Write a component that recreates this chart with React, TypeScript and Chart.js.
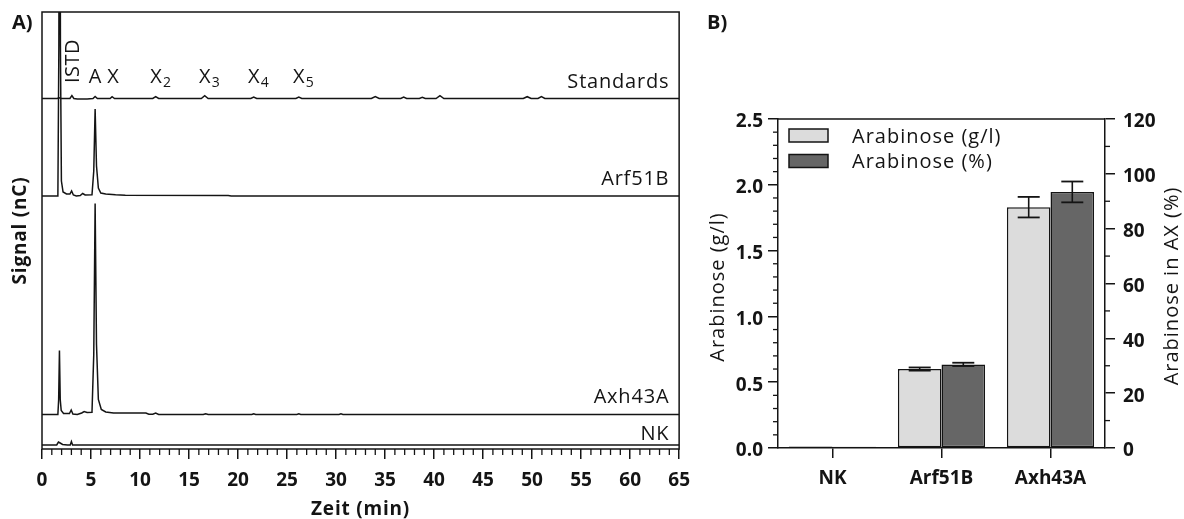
import React, { useEffect, useRef } from 'react';
import { Chart, registerables } from 'chart.js';

Chart.register(...registerables);

const FONT = '"Open Sans", "Liberation Sans", sans-serif';
const INK = '#141414';

// ---------------- Panel A: chromatograms ----------------
const timeMin = 0;
const timeMax = 65;
const timeMajorStep = 5;
const timeMinorStep = 1;
const signalMin = 0;
const signalMax = 437;

const traceNames = ['Standards', 'Arf51B', 'Axh43A', 'NK'];
const traceOffsets = [350.5, 253, 34.5, 4];

// [time (min), signal above baseline]
const standardsTrace: number[][] = [
  [0, 0], [1.55, 0], [1.75, 0.8], [1.95, 0], [2.85, 0], [3.05, 3], [3.25, 0], [3.6, -0.6], [4.6, -0.6],
  [5.2, 0], [5.42, 2], [5.65, 0], [6.95, 0], [7.15, 1.8], [7.4, 0], [11.3, 0], [11.6, 1.8], [11.9, 0],
  [16.25, 0], [16.6, 2.8], [16.95, 0], [21.3, 0], [21.6, 1.5], [21.9, 0], [25.9, 0], [26.2, 1.5], [26.5, 0],
  [33.6, 0], [34.0, 2], [34.4, 0], [36.6, 0], [36.9, 1.5], [37.2, 0], [38.5, 0], [38.8, 1.2], [39.1, 0],
  [40.2, 0], [40.6, 2.8], [41.0, 0], [49.1, 0], [49.5, 1.8], [49.9, 0], [50.6, 0], [50.95, 1.8], [51.3, 0], [65, 0],
];
const arf51bTrace: number[][] = [
  [0, 0], [1.62, 0], [1.72, 150], [1.8, 600], [1.88, 150], [1.98, 15], [2.15, 4], [2.5, 2], [2.85, 2],
  [3.02, 5], [3.2, 1], [3.5, 0], [3.9, 0.5], [4.15, 2.5], [4.4, 1], [5.1, 1.2], [5.28, 25], [5.42, 87],
  [5.56, 30], [5.75, 8], [6.0, 3], [6.5, 2], [7.5, 1.2], [8.5, 0.8], [19.0, 0.6], [19.3, 0], [65, 0],
];
const axh43aTrace: number[][] = [
  [0, 0], [1.62, 0], [1.7, 15], [1.78, 64], [1.86, 15], [1.96, 4], [2.2, 1], [2.8, 1], [2.98, 4.5],
  [3.15, 0.5], [3.6, 0], [4.05, 1.5], [4.3, 3], [4.6, 2], [5.1, 2.2], [5.28, 60], [5.42, 211], [5.56, 70],
  [5.75, 15], [6.05, 5], [6.5, 2.5], [7.3, 1.5], [10.6, 1.5], [10.9, 0.3], [11.3, 0.2], [11.6, 1.4], [11.9, 0],
  [16.45, 0], [16.7, 0.8], [16.95, 0], [21.4, 0], [21.6, 0.8], [21.8, 0], [26.0, 0], [26.2, 0.6], [26.4, 0],
  [30.3, 0], [30.5, 0.6], [30.7, 0], [65, 0],
];
const nkTrace: number[][] = [
  [0, 0], [1.5, 0], [1.68, 3], [1.85, 2], [2.1, 0.6], [2.6, 0], [2.88, 0], [3.0, 3.5], [3.12, 0], [65, 0],
];
const traces = [standardsTrace, arf51bTrace, axh43aTrace, nkTrace];

const peakNames = ['ISTD', 'A', 'X', 'X', 'X', 'X', 'X'];
const peakSubscripts = ['', '', '', '2', '3', '4', '5'];
const peakTimes = [3.1, 5.42, 7.25, 11.64, 16.6, 21.6, 26.2];

// ---------------- Panel B: bars ----------------
const categories = ['NK', 'Arf51B', 'Axh43A'];
const seriesLabels = ['Arabinose (g/l)', 'Arabinose (%)'];
const arabinoseGL = [0.012, 0.6, 1.83];
const arabinoseGLErr = [0, 0.012, 0.078];
const arabinosePct = [0.5, 30.5, 93.4];
const arabinosePctErr = [0, 0.6, 3.8];
const glAxis = { min: 0, max: 2.5, step: 0.5, minor: 0.1 };
const pctAxis = { min: 0, max: 120, step: 20, minor: 10 };
const barColors = ['#dcdcdc', '#666666'];

function drawText(
  ctx: CanvasRenderingContext2D, s: string, x: number, y: number,
  o: { size: number; bold?: boolean; align?: CanvasTextAlign; baseline?: CanvasTextBaseline; spacing?: number; rotate?: number }
) {
  ctx.save();
  ctx.font = `${o.bold ? 'bold ' : ''}${o.size}px ${FONT}`;
  ctx.fillStyle = INK;
  (ctx as any).letterSpacing = `${o.spacing || 0}px`;
  ctx.textAlign = o.align || 'left';
  ctx.textBaseline = o.baseline || 'alphabetic';
  ctx.translate(x, y);
  if (o.rotate) ctx.rotate(o.rotate);
  ctx.fillText(s, 0, 0);
  ctx.restore();
}

function line(ctx: CanvasRenderingContext2D, x1: number, y1: number, x2: number, y2: number, w = 1.5) {
  ctx.save();
  ctx.strokeStyle = INK;
  ctx.lineWidth = w;
  ctx.beginPath();
  ctx.moveTo(x1, y1);
  ctx.lineTo(x2, y2);
  ctx.stroke();
  ctx.restore();
}

const chromPlugin = {
  id: 'chromDecor',
  afterDraw(chart: any) {
    const { ctx, chartArea: a, scales } = chart;
    const xs = scales.x;
    const ys = scales.y;
    ctx.save();
    ctx.strokeStyle = INK;
    ctx.lineWidth = 1.5;
    ctx.strokeRect(a.left, a.top, a.right - a.left, a.bottom - a.top);
    ctx.restore();
    for (let t = timeMin; t <= timeMax; t += timeMinorStep) {
      if (t % timeMajorStep === 0) continue;
      const px = xs.getPixelForValue(t);
      line(ctx, px, a.bottom, px, a.bottom + 6, 1.3);
    }
    const lifts = [10.5, 11, 11.5, 5];
    traceNames.forEach((n, i) => {
      drawText(ctx, n, xs.getPixelForValue(64), ys.getPixelForValue(traceOffsets[i]) - lifts[i],
        { size: 20, align: 'right', spacing: 0.8 });
    });
    const labelBase = ys.getPixelForValue(traceOffsets[0]) - 15.5;
    peakNames.forEach((n, i) => {
      const px = xs.getPixelForValue(peakTimes[i]);
      if (n === 'ISTD') {
        drawText(ctx, n, px + 7, labelBase, { size: 20, rotate: -Math.PI / 2, spacing: 0.5 });
      } else {
        drawText(ctx, n, px, labelBase, { size: 20, align: 'center' });
        if (peakSubscripts[i]) drawText(ctx, peakSubscripts[i], px + 7, labelBase + 4, { size: 14 });
      }
    });
    drawText(ctx, 'Zeit (min)', (a.left + a.right) / 2, 515, { size: 19, bold: true, align: 'center', spacing: 0.8 });
    drawText(ctx, 'Signal (nC)', 26, (a.top + a.bottom) / 2, { size: 19, bold: true, align: 'center', spacing: 0.8, rotate: -Math.PI / 2 });
    drawText(ctx, 'A)', 12, 29, { size: 20, bold: true });
  },
};

const barPlugin = {
  id: 'barDecor',
  afterDatasetsDraw(chart: any) {
    const { ctx } = chart;
    const errs = [arabinoseGLErr, arabinosePctErr];
    const vals = [arabinoseGL, arabinosePct];
    chart.data.datasets.forEach((ds: any, di: number) => {
      const meta = chart.getDatasetMeta(di);
      const ys = chart.scales[ds.yAxisID];
      meta.data.forEach((el: any, i: number) => {
        const e = errs[di][i];
        if (!e) return;
        const yt = ys.getPixelForValue(vals[di][i] + e);
        const yb = ys.getPixelForValue(vals[di][i] - e);
        line(ctx, el.x, yt, el.x, yb, 1.6);
        line(ctx, el.x - 11, yt, el.x + 11, yt, 1.8);
        line(ctx, el.x - 11, yb, el.x + 11, yb, 1.8);
      });
    });
  },
  afterDraw(chart: any) {
    const { ctx, chartArea: a, scales } = chart;
    line(ctx, a.left, a.top, a.right, a.top, 1.5);
    const yl = scales.y;
    const yr = scales.y1;
    for (let k = 1; k * glAxis.minor < glAxis.max; k++) {
      if (k % 5 === 0) continue;
      const py = yl.getPixelForValue(k * glAxis.minor);
      line(ctx, a.left - 5, py, a.left, py, 1.3);
    }
    for (let v = pctAxis.minor; v < pctAxis.max; v += pctAxis.minor) {
      if (v % pctAxis.step === 0) continue;
      const py = yr.getPixelForValue(v);
      line(ctx, a.right, py, a.right + 5, py, 1.3);
    }
    // legend
    chart.data.datasets.forEach((ds: any, i: number) => {
      const bx = a.left + 11;
      const by = a.top + 10 + i * 25.5;
      ctx.save();
      ctx.fillStyle = ds.backgroundColor;
      ctx.strokeStyle = INK;
      ctx.lineWidth = 1.5;
      ctx.fillRect(bx, by, 39, 13);
      ctx.strokeRect(bx, by, 39, 13);
      ctx.restore();
      drawText(ctx, ds.label, bx + 63, by + 13.5, { size: 20, spacing: 1 });
    });
    drawText(ctx, 'Arabinose (g/l)', 23.5, 287, { size: 20, align: 'center', spacing: 1, rotate: -Math.PI / 2 });
    drawText(ctx, 'Arabinose in AX (%)', 477.5, 286, { size: 20, align: 'center', spacing: 1, rotate: -Math.PI / 2 });
    drawText(ctx, 'B)', 7, 29, { size: 20, bold: true });
  },
};

const tickFont = { family: FONT, size: 19, weight: 'bold' as const };

export default function App() {
  const refA = useRef<HTMLCanvasElement>(null);
  const refB = useRef<HTMLCanvasElement>(null);

  useEffect(() => {
    const chartA = new Chart(refA.current!, {
      type: 'line',
      data: {
        datasets: traces.map((tr, i) => ({
          label: traceNames[i],
          data: tr.map(([t, s]) => ({ x: t, y: s + traceOffsets[i] })),
          borderColor: INK,
          borderWidth: 1.5,
          pointRadius: 0,
          tension: 0,
          fill: false,
        })),
      },
      options: {
        responsive: false,
        animation: false,
        events: [],
        layout: { padding: { top: 12, right: 5, left: 0, bottom: 0 } },
        plugins: { legend: { display: false }, tooltip: { enabled: false } },
        scales: {
          x: {
            type: 'linear',
            min: timeMin,
            max: timeMax,
            ticks: { stepSize: timeMajorStep, color: INK, font: tickFont, padding: 10, maxRotation: 0 },
            grid: { display: true, drawOnChartArea: false, drawTicks: true, tickLength: 10, color: INK, lineWidth: 1.5 },
            border: { display: false },
            afterFit: (s: any) => { s.height = 70; },
          },
          y: {
            min: signalMin,
            max: signalMax,
            ticks: { display: false },
            grid: { display: false },
            border: { display: false },
            afterFit: (s: any) => { s.width = 42; },
          },
        },
      } as any,
      plugins: [chromPlugin],
    });

    const chartB = new Chart(refB.current!, {
      type: 'bar',
      data: {
        labels: categories,
        datasets: [
          { label: seriesLabels[0], data: arabinoseGL, yAxisID: 'y', backgroundColor: barColors[0] },
          { label: seriesLabels[1], data: arabinosePct, yAxisID: 'y1', backgroundColor: barColors[1] },
        ].map((d) => ({ ...d, borderColor: INK, borderWidth: 1.5, borderSkipped: false, categoryPercentage: 0.8, barPercentage: 1.0 })),
      },
      options: {
        responsive: false,
        animation: false,
        events: [],
        layout: { padding: { top: 119, right: 0, left: 0, bottom: 0 } },
        plugins: { legend: { display: false }, tooltip: { enabled: false } },
        scales: {
          x: {
            ticks: { color: INK, font: tickFont, padding: 9 },
            grid: { display: true, offset: false, drawOnChartArea: false, tickLength: 10, color: INK, lineWidth: 1.5 },
            border: { display: true, color: INK, width: 1.5 },
            afterFit: (s: any) => { s.height = 71; },
          },
          y: {
            position: 'left',
            min: glAxis.min,
            max: glAxis.max,
            ticks: { stepSize: glAxis.step, color: INK, font: tickFont, padding: 5, labelOffset: 3, callback: (v: any) => Number(v).toFixed(1) },
            grid: { display: true, drawOnChartArea: false, tickLength: 10, color: INK, lineWidth: 1.5 },
            border: { display: true, color: INK, width: 1.5 },
            afterFit: (s: any) => { s.width = 78; },
          },
          y1: {
            position: 'right',
            min: pctAxis.min,
            max: pctAxis.max,
            ticks: { stepSize: pctAxis.step, color: INK, font: tickFont, padding: 8, labelOffset: 3 },
            grid: { display: true, drawOnChartArea: false, tickLength: 10, color: INK, lineWidth: 1.5 },
            border: { display: true, color: INK, width: 1.5 },
            afterFit: (s: any) => { s.width = 79; },
          },
        },
      } as any,
      plugins: [barPlugin],
    });

    return () => {
      chartA.destroy();
      chartB.destroy();
    };
  }, []);

  return (
    <div style={{ position: 'fixed', left: 0, top: 0, width: 1184, height: 519, background: '#fff', overflow: 'hidden' }}>
      <canvas ref={refA} width={700} height={519} style={{ position: 'absolute', left: 0, top: 0, width: 700, height: 519 }} />
      <canvas ref={refB} width={484} height={519} style={{ position: 'absolute', left: 700, top: 0, width: 484, height: 519 }} />
    </div>
  );
}
